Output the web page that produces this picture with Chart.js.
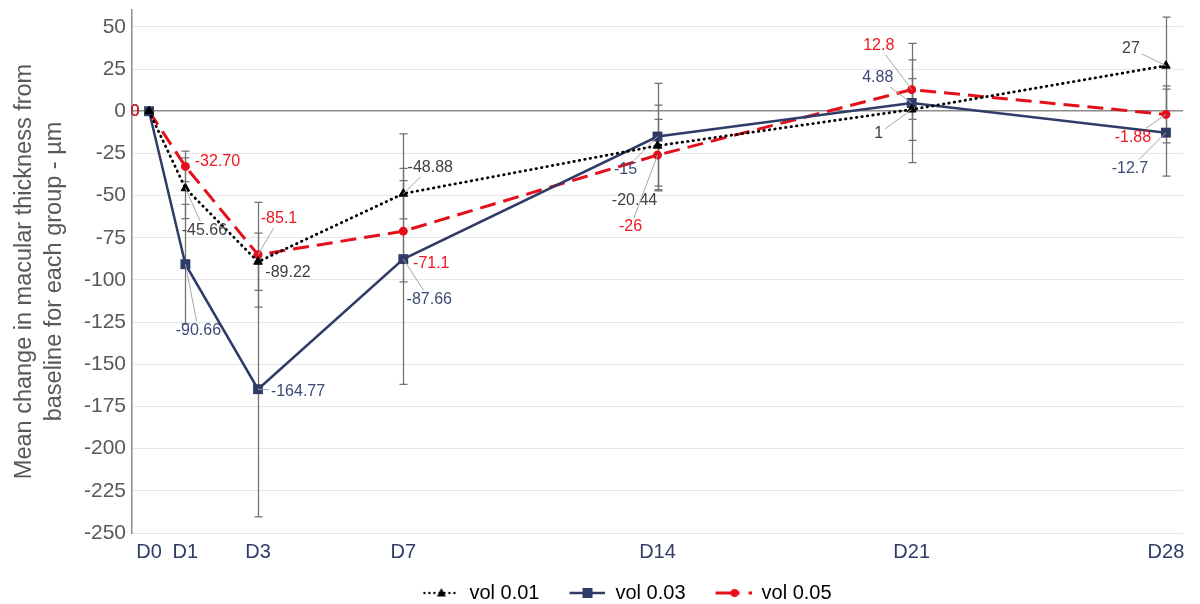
<!DOCTYPE html>
<html>
<head>
<meta charset="utf-8">
<script src="https://cdn.jsdelivr.net/npm/chart.js@4"></script>
<style>
  body { margin: 0; background: #fff; }
  canvas { display: block; }
</style>
</head>
<body>
<canvas id="chart" width="1200" height="604"></canvas>
<script>
// x positions are days after baseline
const days = [0, 1, 3, 7, 14, 21, 28];
const dayLabels = ['D0', 'D1', 'D3', 'D7', 'D14', 'D21', 'D28'];
const yTicks = [50, 25, 0, -25, -50, -75, -100, -125, -150, -175, -200, -225, -250];

const seriesNames = ['vol 0.01', 'vol 0.03', 'vol 0.05'];
const vol001 = [0, -45.66, -89.22, -48.88, -20.44, 1, 27];
const vol003 = [0, -90.66, -164.77, -87.66, -15, 4.88, -12.7];
const vol005 = [0, -32.70, -85.1, -71.1, -26, 12.8, -1.88];

// error bar half widths (SD)
const err001 = [0, 18, 17, 15, 24, 18.3, 28.8];
const err003 = [0, 35.4, 75.7, 74.3, 31.5, 35.4, 25.8];
const err005 = [0, 9.1, 31, 30, 21.2, 17.6, 16.9];

// data label text as printed
const text001 = ['0', '-45.66', '-89.22', '-48.88', '-20.44', '1', '27'];
const text003 = ['0', '-90.66', '-164.77', '-87.66', '-15', '4.88', '-12.7'];
const text005 = ['0', '-32.70', '-85.1', '-71.1', '-26', '12.8', '-1.88'];

// label placement relative to its point (px), and whether a leader line is drawn
const off001 = [[-14, 0], [19, 42], [30, 11], [27, -26], [-23, 55], [-33, 24], [-35, -17]];
const off003 = [[-14, 0], [13, 66], [40, 2], [26, 40], [-32, 33], [-34, -25], [-36, 36]];
const off005 = [[-14, 0], [32, -5], [21, -36], [28, 32], [-27, 72], [-33, -44], [-33, 23]];
const lead001 = [0, 1, 0, 1, 0, 1, 1];
const lead003 = [0, 1, 1, 1, 1, 1, 1];
const lead005 = [0, 0, 1, 0, 1, 1, 1];

const BLACK = '#000000';
const NAVY = '#2F3C68';
const RED = '#E3101B';
const FONT = '"Liberation Sans", Arial, sans-serif';

const extras = [
  { err: err001, text: text001, off: off001, lead: lead001, color: '#404040' },
  { err: err003, text: text003, off: off003, lead: lead003, color: '#3C4A78' },
  { err: err005, text: text005, off: off005, lead: lead005, color: '#EE1620' }
];

function toPoints(values) {
  return values.map((v, i) => ({ x: days[i], y: v }));
}

// legend samples: line + marker, blank space on the left to space the items
function legendSample(kind) {
  const c = document.createElement('canvas');
  c.width = 64;
  c.height = 20;
  const g = c.getContext('2d');
  const x0 = 28, x1 = 64, cy = 10;
  if (kind === 0) {
    g.fillStyle = BLACK;
    for (let x = x0 + 1; x < x1; x += 5) {
      g.beginPath();
      g.arc(x, cy, 1.2, 0, Math.PI * 2);
      g.fill();
    }
    g.beginPath();
    g.moveTo(46, cy - 5);
    g.lineTo(50.5, cy + 3.5);
    g.lineTo(41.5, cy + 3.5);
    g.closePath();
    g.fill();
  } else if (kind === 1) {
    g.strokeStyle = NAVY;
    g.lineWidth = 2.5;
    g.beginPath();
    g.moveTo(x0, cy);
    g.lineTo(x1, cy);
    g.stroke();
    g.fillStyle = NAVY;
    g.fillRect(41, cy - 5, 10, 10);
  } else {
    g.strokeStyle = RED;
    g.lineWidth = 3;
    g.beginPath();
    g.moveTo(x0, cy);
    g.lineTo(52, cy);
    g.stroke();
    g.fillStyle = RED;
    g.beginPath();
    g.arc(47, cy, 4, 0, Math.PI * 2);
    g.fill();
    g.fillRect(61, cy - 1.5, 3, 3);
  }
  return c;
}

const errorBars = {
  id: 'errorBars',
  beforeDatasetsDraw(chart) {
    const ctx = chart.ctx;
    const y = chart.scales.y;
    ctx.save();
    ctx.strokeStyle = '#707070';
    ctx.lineWidth = 1.25;
    chart.data.datasets.forEach((ds, di) => {
      const meta = chart.getDatasetMeta(di);
      const err = extras[di].err;
      meta.data.forEach((pt, i) => {
        if (!err[i]) return;
        const v = ds.data[i].y;
        const top = y.getPixelForValue(v + err[i]);
        const bot = y.getPixelForValue(v - err[i]);
        const x = Math.round(pt.x) + 0.5;
        ctx.beginPath();
        ctx.moveTo(x, top);
        ctx.lineTo(x, bot);
        ctx.moveTo(x - 4, top);
        ctx.lineTo(x + 4, top);
        ctx.moveTo(x - 4, bot);
        ctx.lineTo(x + 4, bot);
        ctx.stroke();
      });
    });
    ctx.restore();
  }
};

const dataLabels = {
  id: 'dataLabels',
  afterDatasetsDraw(chart) {
    const ctx = chart.ctx;
    ctx.save();
    ctx.font = '16px ' + FONT;
    ctx.textAlign = 'center';
    ctx.textBaseline = 'middle';
    chart.data.datasets.forEach((ds, di) => {
      const meta = chart.getDatasetMeta(di);
      const ex = extras[di];
      meta.data.forEach((pt, i) => {
        const cx = pt.x + ex.off[i][0];
        const cy = pt.y + ex.off[i][1];
        const label = ex.text[i];
        if (ex.lead[i]) {
          const hw = ctx.measureText(label).width / 2 + 2;
          const hh = 9;
          const dx = pt.x - cx;
          const dy = pt.y - cy;
          const t = Math.min(dx ? hw / Math.abs(dx) : Infinity, dy ? hh / Math.abs(dy) : Infinity);
          ctx.strokeStyle = '#A6A6A6';
          ctx.lineWidth = 1;
          ctx.beginPath();
          ctx.moveTo(cx + dx * t, cy + dy * t);
          ctx.lineTo(pt.x, pt.y);
          ctx.stroke();
        }
        ctx.fillStyle = ex.color;
        ctx.fillText(label, cx, cy);
      });
    });
    ctx.restore();
  }
};

// move the legend right and down a little (it reserves 10px extra below itself)
const legendShift = {
  id: 'legendShift',
  afterLayout(chart) {
    const lg = chart.legend;
    lg.left += 22;
    lg.right += 22;
    lg.top += 9;
    lg.bottom += 9;
  }
};

function noEdgePadding(scale) {
  scale.paddingTop = 0;
  scale.paddingBottom = 0;
  scale.paddingLeft = 0;
  scale.paddingRight = 0;
}

new Chart(document.getElementById('chart'), {
  type: 'line',
  data: {
    datasets: [
      {
        label: seriesNames[0],
        data: toPoints(vol001),
        borderColor: BLACK,
        backgroundColor: BLACK,
        borderWidth: 2.8,
        borderDash: [0.5, 5],
        borderCapStyle: 'round',
        pointStyle: 'triangle',
        pointRadius: 5,
        pointBorderWidth: 1
      },
      {
        label: seriesNames[1],
        data: toPoints(vol003),
        borderColor: NAVY,
        backgroundColor: NAVY,
        borderWidth: 2.5,
        pointStyle: 'rect',
        pointRadius: 7,
        pointBorderWidth: 0
      },
      {
        label: seriesNames[2],
        data: toPoints(vol005),
        borderColor: RED,
        backgroundColor: RED,
        borderWidth: 3,
        borderDash: [16, 8],
        pointStyle: 'circle',
        pointRadius: 4.5,
        pointBorderWidth: 0
      }
    ]
  },
  options: {
    responsive: false,
    animation: false,
    devicePixelRatio: 1,
    layout: { padding: { left: 0, right: 17, top: 10, bottom: 0 } },
    elements: { line: { tension: 0 } },
    scales: {
      x: {
        type: 'linear',
        min: -0.47,
        max: 28.47,
        afterBuildTicks: (scale) => {
          scale.ticks = days.map(v => ({ value: v }));
        },
        afterFit: (scale) => { scale.height = 39; noEdgePadding(scale); },
        grid: { display: false, drawTicks: false },
        border: { display: false },
        ticks: {
          autoSkip: false,
          maxRotation: 0,
          padding: 7,
          color: NAVY,
          font: { family: FONT, size: 20 },
          callback: (v) => dayLabels[days.indexOf(v)]
        }
      },
      y: {
        min: -250,
        max: 60,
        afterBuildTicks: (scale) => {
          scale.ticks = yTicks.map(v => ({ value: v }));
        },
        afterFit: (scale) => { scale.width = 132; noEdgePadding(scale); },
        grid: {
          drawTicks: false,
          color: (c) => c.tick && c.tick.value === 0 ? '#8C8C8C' : '#E6E6E6',
          lineWidth: (c) => c.tick && c.tick.value === 0 ? 1.5 : 1
        },
        border: { display: true, color: '#8C8C8C', width: 1.5 },
        ticks: {
          padding: 6,
          color: '#595959',
          font: { family: FONT, size: 21 }
        },
        title: {
          display: true,
          text: ['Mean change in macular thickness from', 'baseline for each group - µm'],
          color: '#595959',
          font: { family: FONT, size: 23.5, lineHeight: 1.3 },
          padding: { top: 9, bottom: 0 }
        }
      }
    },
    plugins: {
      tooltip: { enabled: false },
      legend: {
        position: 'bottom',
        labels: {
          usePointStyle: true,
          pointStyleWidth: 64,
          padding: 2,
          color: '#595959',
          font: { family: FONT, size: 20 },
          generateLabels: (chart) => chart.data.datasets.map((ds, i) => ({
            text: ds.label,
            pointStyle: legendSample(i),
            fillStyle: ds.borderColor,
            strokeStyle: ds.borderColor,
            lineWidth: 0,
            hidden: false,
            datasetIndex: i
          }))
        }
      }
    }
  },
  plugins: [errorBars, dataLabels, legendShift]
});
</script>
</body>
</html>
